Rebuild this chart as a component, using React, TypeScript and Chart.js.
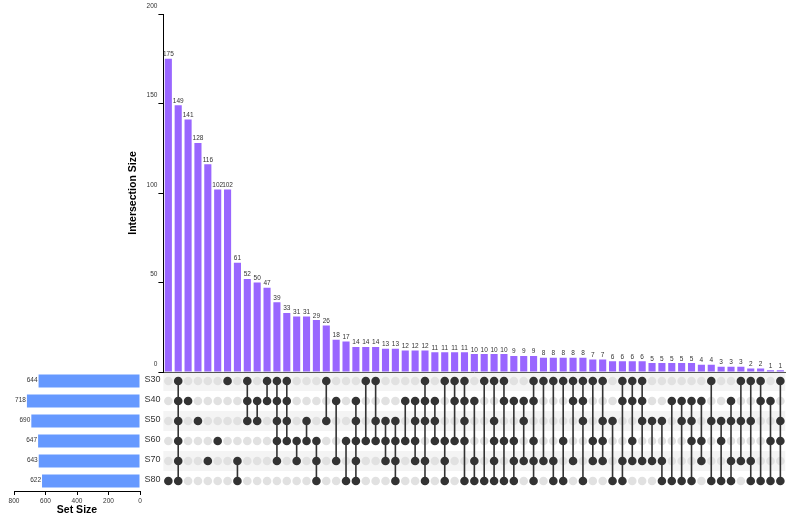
import React, { useEffect, useRef } from "react";
import { Chart, registerables } from "chart.js";

Chart.register(...registerables);

// ---------- data ----------
const setNames = ["S30", "S40", "S50", "S60", "S70", "S80"];
const setSizes = [644, 718, 690, 647, 643, 622];

const intersectionSizes = [
  175, 149, 141, 128, 116, 102, 102, 61, 52, 50, 47, 39, 33, 31, 31, 29, 26, 18, 17, 14, 14,
  14, 13, 13, 12, 12, 12, 11, 11, 11, 11, 10, 10, 10, 10, 9, 9, 9, 8, 8, 8, 8, 8, 7, 7, 6, 6,
  6, 6, 5, 5, 5, 5, 5, 4, 4, 3, 3, 3, 2, 2, 1, 1,
];

const intersectionMembers = [
  "S80", "S30 S40 S50 S60 S70 S80", "S40", "S50", "S70", "S60", "S30", "S70 S80",
  "S30 S40 S50", "S40 S50", "S30 S40", "S30 S40 S50 S60 S70", "S30 S40 S50 S60", "S60 S70",
  "S50 S60", "S60 S70 S80", "S30 S50", "S40 S70", "S60 S80", "S40 S50 S60 S70 S80", "S30 S60",
  "S30 S50 S60", "S50 S60 S70", "S50 S60 S70 S80", "S40 S60", "S40 S50 S60 S70",
  "S30 S40 S50 S70 S80", "S40 S50 S60", "S30 S60 S70 S80", "S30 S40 S60", "S30 S40 S50 S60 S80",
  "S40 S70 S80", "S30 S80", "S30 S50 S60 S70 S80", "S30 S40 S60 S80", "S40 S60 S70 S80",
  "S40 S50 S70", "S30 S40 S60 S70 S80", "S30 S70", "S30 S70 S80", "S30 S60 S80", "S30 S40 S70",
  "S30 S40 S50 S80", "S30 S60 S70", "S30 S50 S60 S70", "S50 S80", "S30 S40 S70 S80",
  "S30 S40 S60 S70", "S30 S40 S50 S70", "S50 S70", "S50 S70 S80", "S40 S80", "S40 S50 S80",
  "S40 S50 S60 S80", "S40 S60 S70", "S30 S50 S80", "S50 S60 S80", "S40 S50 S70 S80",
  "S30 S50 S70", "S30 S50 S70 S80", "S30 S40 S80", "S40 S60 S80", "S30 S50 S60 S80",
];

const intersectionTicks = [0, 50, 100, 150, 200];
const setSizeTicks = [0, 200, 400, 600, 800];

// ---------- layout / style ----------
const W = 799;
const H = 519;
const PLOT_LEFT = 163.4;
const PLOT_RIGHT = 785.3;
const BAR_BOTTOM = 372;
const MATRIX_TOP = 371;
const MATRIX_BOTTOM = 491;
const FONT = "'Liberation Sans', Arial, sans-serif";
const PURPLE = "#9966ff";
const BLUE = "#6699ff";
const DARK = "#333333";
const LIGHT_DOT = "#e1e1e1";

const barLabelPlugin = {
  id: "barLabels",
  afterDatasetsDraw(chart: any) {
    const ctx = chart.ctx;
    const meta = chart.getDatasetMeta(0);
    const values = chart.data.datasets[0].data;
    ctx.save();
    ctx.font = `6.5px ${FONT}`;
    ctx.fillStyle = DARK;
    ctx.textAlign = "center";
    ctx.textBaseline = "bottom";
    meta.data.forEach((el: any, i: number) => {
      ctx.fillText(String(values[i]), el.x, el.y - 1);
    });
    ctx.restore();
  },
};

const setLabelPlugin = {
  id: "setLabels",
  afterDatasetsDraw(chart: any) {
    const ctx = chart.ctx;
    const meta = chart.getDatasetMeta(0);
    const values = chart.data.datasets[0].data;
    ctx.save();
    ctx.font = `6.5px ${FONT}`;
    ctx.fillStyle = DARK;
    ctx.textAlign = "right";
    ctx.textBaseline = "middle";
    meta.data.forEach((el: any, i: number) => {
      ctx.fillText(String(values[i]), el.x - 1, el.y - 1);
    });
    ctx.restore();
  },
};

const stripePlugin = {
  id: "stripes",
  beforeDatasetsDraw(chart: any) {
    const { ctx, chartArea } = chart;
    const y = chart.scales.y;
    const rowH = (chartArea.bottom - chartArea.top) / setNames.length;
    ctx.save();
    ctx.fillStyle = "#f4f4f4";
    setNames.forEach((_, i) => {
      if (i % 2 === 0) {
        const cy = y.getPixelForValue(i);
        ctx.fillRect(chartArea.left, cy - rowH / 2, chartArea.right - chartArea.left, rowH);
      }
    });
    ctx.restore();
  },
};

export default function App() {
  const barRef = useRef<HTMLCanvasElement | null>(null);
  const matRef = useRef<HTMLCanvasElement | null>(null);
  const setRef = useRef<HTMLCanvasElement | null>(null);

  useEffect(() => {
    const memberLists = intersectionMembers.map((s) => s.split(" "));

    // Intersection size bars
    const barChart = new Chart(barRef.current as HTMLCanvasElement, {
      type: "bar",
      data: {
        labels: intersectionMembers,
        datasets: [
          {
            data: intersectionSizes,
            backgroundColor: PURPLE,
            categoryPercentage: 1,
            barPercentage: 0.72,
          },
        ],
      },
      options: {
        responsive: false,
        animation: false,
        events: [],
        layout: {
          padding: { left: PLOT_LEFT - 41, right: W - PLOT_RIGHT, top: 14, bottom: H - BAR_BOTTOM },
        },
        plugins: { legend: { display: false }, tooltip: { enabled: false } },
        scales: {
          x: {
            grid: { display: false },
            ticks: { display: false },
            border: { display: true, color: "#555", width: 1 },
            afterFit: (s: any) => {
              s.height = 0;
            },
          },
          y: {
            min: 0,
            max: 200,
            afterBuildTicks: (s: any) => {
              s.ticks = intersectionTicks.map((v) => ({ value: v }));
            },
            grid: { drawOnChartArea: false, drawTicks: true, tickLength: 5, color: "#000" },
            border: { display: true, color: "#000", width: 1 },
            ticks: {
              font: { size: 6.5, family: FONT },
              color: DARK,
              padding: 1,
              labelOffset: -8,
            },
            title: {
              display: true,
              text: "Intersection Size",
              font: { size: 10.5, weight: "bold", family: FONT },
              color: "#000",
              padding: { top: 4, bottom: 0 },
            },
            afterFit: (s: any) => {
              s.width = 41;
            },
          },
        },
      } as any,
      plugins: [barLabelPlugin],
    });

    // Membership matrix
    const memberPoints: any[] = [];
    const emptyPoints: any[] = [];
    const linkPoints: any[] = [];
    memberLists.forEach((members, i) => {
      setNames.forEach((name) => {
        if (members.includes(name)) memberPoints.push({ x: i, y: name });
        else emptyPoints.push({ x: i, y: name });
      });
      if (members.length > 1) {
        const idx = members.map((m) => setNames.indexOf(m)).sort((a, b) => a - b);
        linkPoints.push({ x: i, y: setNames[idx[0]] });
        linkPoints.push({ x: i, y: setNames[idx[idx.length - 1]] });
        linkPoints.push({ x: i, y: null });
      }
    });

    const matChart = new Chart(matRef.current as HTMLCanvasElement, {
      type: "scatter",
      data: {
        datasets: [
          {
            data: memberPoints,
            pointRadius: 4.3,
            pointBackgroundColor: DARK,
            pointBorderWidth: 0,
            order: 1,
          },
          {
            data: linkPoints,
            showLine: true,
            spanGaps: false,
            borderColor: DARK,
            borderWidth: 1.6,
            pointRadius: 0,
            order: 2,
          },
          {
            data: emptyPoints,
            pointRadius: 4.3,
            pointBackgroundColor: LIGHT_DOT,
            pointBorderWidth: 0,
            order: 3,
          },
        ],
      },
      options: {
        responsive: false,
        animation: false,
        events: [],
        layout: {
          padding: { left: PLOT_LEFT - 20, right: W - PLOT_RIGHT, top: MATRIX_TOP, bottom: H - MATRIX_BOTTOM },
        },
        plugins: { legend: { display: false }, tooltip: { enabled: false } },
        scales: {
          x: { type: "linear", min: -0.5, max: intersectionSizes.length - 0.5, display: false },
          y: {
            type: "category",
            labels: setNames,
            offset: true,
            grid: { display: false, drawTicks: false },
            border: { display: false },
            ticks: { font: { size: 9, family: FONT }, color: DARK, padding: 3, labelOffset: -1 },
            afterFit: (s: any) => {
              s.width = 20;
            },
          },
        },
      } as any,
      plugins: [stripePlugin],
    });

    // Set size bars
    const setChart = new Chart(setRef.current as HTMLCanvasElement, {
      type: "bar",
      data: {
        labels: setNames,
        datasets: [
          {
            data: setSizes,
            backgroundColor: BLUE,
            categoryPercentage: 1,
            barPercentage: 0.66,
          },
        ],
      },
      options: {
        indexAxis: "y",
        responsive: false,
        animation: false,
        events: [],
        layout: { padding: { left: 14, right: W - 140, top: MATRIX_TOP, bottom: 0 } },
        plugins: { legend: { display: false }, tooltip: { enabled: false } },
        scales: {
          y: { display: false },
          x: {
            min: 0,
            max: 800,
            reverse: true,
            afterBuildTicks: (s: any) => {
              s.ticks = setSizeTicks.map((v) => ({ value: v }));
            },
            grid: { drawOnChartArea: false, drawTicks: true, tickLength: 4, color: "#000" },
            border: { display: true, color: "#000", width: 1 },
            ticks: { font: { size: 6.5, family: FONT }, color: DARK, padding: 2, maxRotation: 0 },
            title: {
              display: true,
              text: "Set Size",
              font: { size: 10.5, weight: "bold", family: FONT },
              color: "#000",
              padding: { top: 0, bottom: 3 },
            },
            afterFit: (s: any) => {
              s.height = H - MATRIX_BOTTOM;
            },
          },
        },
      } as any,
      plugins: [setLabelPlugin],
    });

    return () => {
      barChart.destroy();
      matChart.destroy();
      setChart.destroy();
    };
  }, []);

  const canvasStyle: React.CSSProperties = { position: "absolute", left: 0, top: 0 };
  return (
    <div style={{ position: "fixed", left: 0, top: 0, width: W, height: H, background: "#fff" }}>
      <canvas ref={matRef} width={W} height={H} style={canvasStyle} />
      <canvas ref={setRef} width={W} height={H} style={canvasStyle} />
      <canvas ref={barRef} width={W} height={H} style={canvasStyle} />
    </div>
  );
}
